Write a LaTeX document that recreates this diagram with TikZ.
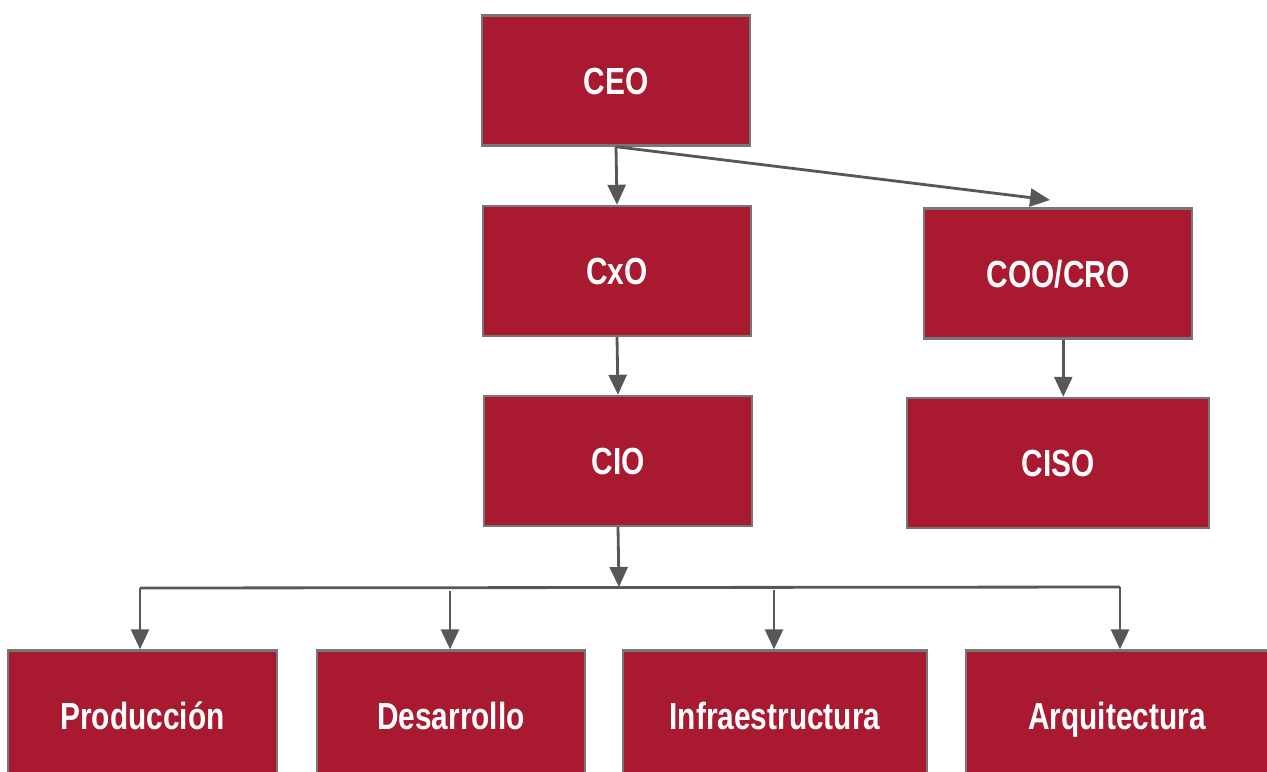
\documentclass[tikz,border=0pt]{standalone}
\usepackage{fontspec}
\newfontfamily\boxfont{Liberation Sans}[FakeStretch=0.79]
\usetikzlibrary{arrows.meta}
\definecolor{boxred}{HTML}{A91930}
\definecolor{boxline}{HTML}{777777}
\definecolor{arrowgray}{HTML}{575757}
\tikzset{
  rolebox/.style={draw=boxline, line width=1.4pt, fill=boxred, text=white,
    minimum width=5.36cm, minimum height=2.6cm, inner sep=0pt,
    text height=15.5pt, text depth=0pt,
    font=\boxfont\bfseries\fontsize{21.5}{24}\selectfont},
  widebox/.style={rolebox, minimum width=6.04cm},
  link/.style={draw=arrowgray, line width=1.6pt},
  arr/.style={link, -{Triangle[length=0.4cm,width=0.36cm]}}
}
\begin{document}
\begin{tikzpicture}[x=0.02cm,y=-0.02cm]
\useasboundingbox (0,0) rectangle (1267,771);
\node[rolebox] (ceo) at (616,80.5) {CEO};
\node[rolebox] (cxo) at (617,271) {CxO};
\node[rolebox] (cio) at (618,461) {CIO};
\node[rolebox] (coo) at (1058,273.5) {COO/CRO};
\node[widebox] (ciso) at (1058,463) {CISO};
\node[rolebox, minimum width=5.38cm] (prod) at (142.5,715.5) {Producción};
\node[rolebox] (desa) at (451,715.5) {Desarrollo};
\node[widebox, minimum width=6.08cm] (infra) at (775,715.5) {Infraestructura};
\node[widebox] (arqu) at (1117,715.5) {Arquitectura};

\coordinate (cootip) at (1050,200);
\coordinate (busmid) at (619,587);
\coordinate (busL) at (140,588);
\coordinate (busR) at (1120,587);
\coordinate (busD) at (450,591);
\coordinate (busI) at (774,590);

\draw[arr] (ceo.south) -- (cxo.north);
\draw[arr] (ceo.south) -- (cootip);
\draw[arr] (cxo.south) -- (cio.north);
\draw[arr] ([xshift=3]coo.south) -- ([xshift=3]ciso.north);
\draw[arr] (cio.south) -- (busmid);
\draw[link] (busL) -- (busR);
\draw[arr] (busL) -- (busL |- prod.north);
\draw[arr] (busD) -- (busD |- desa.north);
\draw[arr] (busI) -- (busI |- infra.north);
\draw[arr] (busR) -- (busR |- arqu.north);
\end{tikzpicture}
\end{document}
